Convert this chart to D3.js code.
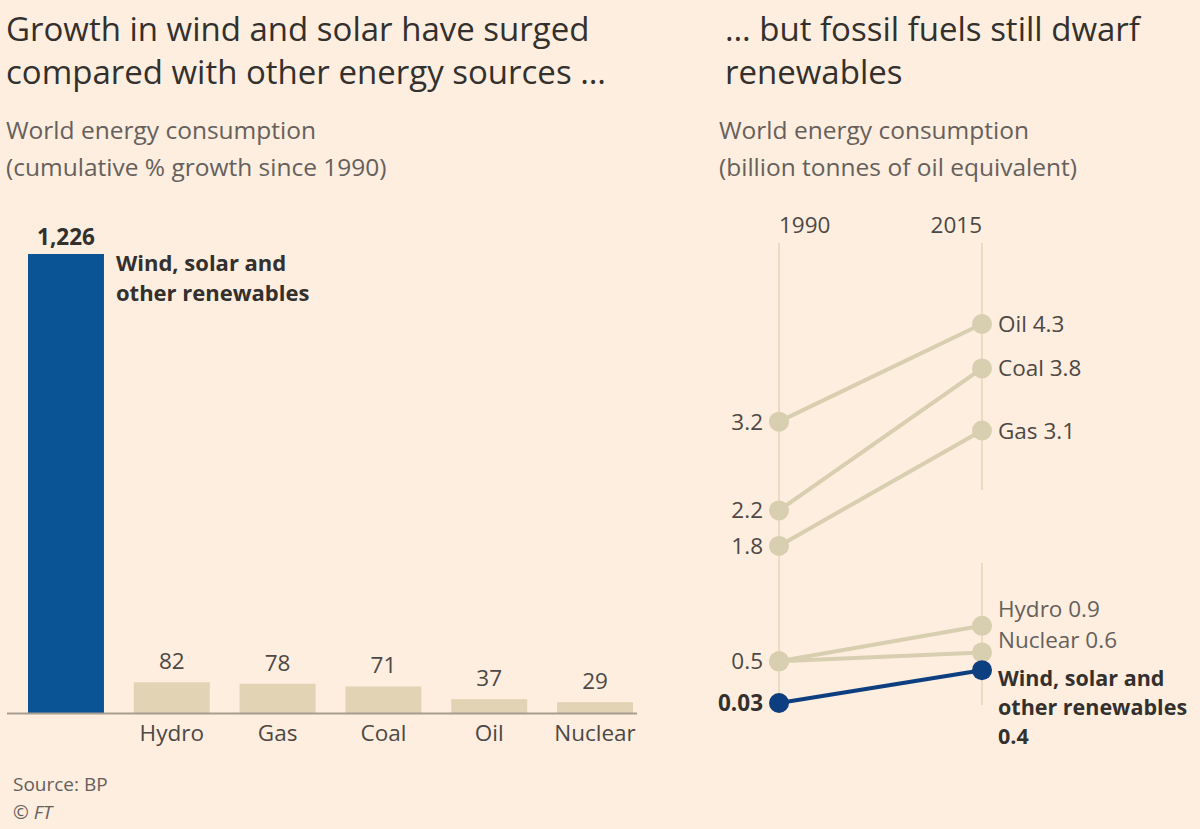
<!DOCTYPE html>
<html>
<head>
<meta charset="utf-8">
<script src="https://cdn.jsdelivr.net/npm/d3@7"></script>
<style>
  html, body { margin: 0; padding: 0; background: #fdeedf; }
  svg { display: block; font-family: "Open Sans", "Noto Sans", sans-serif; }
</style>
</head>
<body>
<svg id="chart" width="1200" height="829"></svg>
<script>
// ---- Data ----
const barCategories = ["Wind, solar and other renewables", "Hydro", "Gas", "Coal", "Oil", "Nuclear"];
const barValues = [1226, 82, 78, 71, 37, 29];

const slopeYears = ["1990", "2015"];
const slopeNames = ["Oil", "Coal", "Gas", "Hydro", "Nuclear", "Wind, solar and other renewables"];
const values1990 = [3.2, 2.2, 1.8, 0.5, 0.5, 0.03];
const values2015 = [4.3, 3.8, 3.1, 0.9, 0.6, 0.4];

const leftTitle = ["Growth in wind and solar have surged", "compared with other energy sources \u2026"];
const leftSub = ["World energy consumption", "(cumulative % growth since 1990)"];
const rightTitle = ["\u2026 but fossil fuels still dwarf", "renewables"];
const rightSub = ["World energy consumption", "(billion tonnes of oil equivalent)"];

// ---- Style ----
const C = {
  bg: "#fdeedf", dark: "#33302e", mid: "#4d4845", light: "#66605c",
  blue: "#0a5496", navy: "#0d3f80", beige: "#e2d3b4", dot: "#d8ceb0", grid: "#eadcbf", axis: "#a69d8f"
};
const FS = 22.5;

const svg = d3.select("#chart");
svg.append("rect").attr("width", 1200).attr("height", 829).attr("fill", C.bg);

function block(lines, x, y0, lh, size, color, weight) {
  const t = svg.append("g");
  lines.forEach((s, i) => {
    t.append("text").attr("x", x).attr("y", y0 + i * lh)
      .attr("font-size", size).attr("fill", color).attr("font-weight", weight || 400).text(s);
  });
  return t;
}
block(leftTitle, 6, 41, 43, 33, C.dark);
block(leftSub, 6, 139, 37, 24.5, C.light);
block(rightTitle, 725, 41, 43, 33, C.dark);
block(rightSub, 719, 139, 37, 24.5, C.light);

// ---- Bar chart ----
const x = d3.scaleBand().domain(barCategories).range([28, 633]).paddingInner(0.282).paddingOuter(0);
const y = d3.scaleLinear().domain([0, 1226]).range([713, 254]);

const bars = svg.append("g");
bars.selectAll("rect").data(barCategories).join("rect")
  .attr("x", d => x(d)).attr("width", x.bandwidth())
  .attr("y", (d, i) => y(barValues[i])).attr("height", (d, i) => y(0) - y(barValues[i]))
  .attr("fill", (d, i) => i === 0 ? C.blue : C.beige);

bars.selectAll("text.val").data(barCategories).join("text").attr("class", "val")
  .attr("x", d => x(d) + x.bandwidth() / 2)
  .attr("y", (d, i) => y(barValues[i]) - (i === 0 ? 9 : 13))
  .attr("text-anchor", "middle")
  .attr("font-size", FS)
  .attr("font-weight", (d, i) => i === 0 ? 700 : 400)
  .attr("fill", (d, i) => i === 0 ? C.dark : C.mid)
  .text((d, i) => d3.format(",")(barValues[i]));

// axis
const xAxis = svg.append("g").attr("transform", "translate(0,713)")
  .call(d3.axisBottom(x).tickSize(0).tickPadding(12));
xAxis.select(".domain").remove();
xAxis.selectAll(".tick text").attr("font-size", FS).attr("fill", C.mid)
  .attr("font-family", "Open Sans, Noto Sans, sans-serif")
  .style("display", (d, i) => i === 0 ? "none" : null);
svg.append("line").attr("x1", 7).attr("x2", 637).attr("y1", 713.5).attr("y2", 713.5)
  .attr("stroke", C.axis).attr("stroke-width", 2);

// renewables label beside bar
block(["Wind, solar and", "other renewables"], x(barCategories[0]) + x.bandwidth() + 12, 271, 30, 22, C.dark, 700);

// footer
svg.append("text").attr("x", 13).attr("y", 791).attr("font-size", 19).attr("fill", C.light).text("Source: BP");
svg.append("text").attr("x", 13).attr("y", 819).attr("font-size", 19).attr("fill", C.light)
  .attr("font-style", "italic").text("\u00a9 FT");

// ---- Slope chart ----
const sx = d3.scalePoint().domain(slopeYears).range([779, 982]);
const sy = d3.scaleLinear().domain([0, 4.3]).range([705.7, 324]);

const g = svg.append("g");
// vertical guide lines
g.append("line").attr("x1", sx("1990")).attr("x2", sx("1990")).attr("y1", 243).attr("y2", 703)
  .attr("stroke", C.grid).attr("stroke-width", 2);
g.append("line").attr("x1", sx("2015")).attr("x2", sx("2015")).attr("y1", 243).attr("y2", 490)
  .attr("stroke", C.grid).attr("stroke-width", 2);
g.append("line").attr("x1", sx("2015")).attr("x2", sx("2015")).attr("y1", 563).attr("y2", 705)
  .attr("stroke", C.grid).attr("stroke-width", 2);

// year labels
g.append("text").attr("x", sx("1990")).attr("y", 233).attr("font-size", FS).attr("fill", C.mid).text(slopeYears[0]);
g.append("text").attr("x", sx("2015")).attr("y", 233).attr("text-anchor", "end").attr("font-size", FS).attr("fill", C.mid).text(slopeYears[1]);

const isRen = i => i === slopeNames.length - 1;
const order = slopeNames.map((d, i) => i);
// lines
g.selectAll("line.s").data(order).join("line").attr("class", "s")
  .attr("x1", sx("1990")).attr("x2", sx("2015"))
  .attr("y1", i => sy(values1990[i])).attr("y2", i => sy(values2015[i]))
  .attr("stroke", i => isRen(i) ? C.navy : C.dot).attr("stroke-width", 4);
// dots
g.selectAll("circle.a").data(order).join("circle").attr("class", "a")
  .attr("cx", sx("1990")).attr("cy", i => sy(values1990[i])).attr("r", 10)
  .attr("fill", i => isRen(i) ? C.navy : C.dot);
g.selectAll("circle.b").data(order).join("circle").attr("class", "b")
  .attr("cx", sx("2015")).attr("cy", i => sy(values2015[i])).attr("r", 10)
  .attr("fill", i => isRen(i) ? C.navy : C.dot);

// left value labels (unique values)
const leftShown = [0, 1, 2, 3, 5];
g.selectAll("text.l").data(leftShown).join("text").attr("class", "l")
  .attr("x", sx("1990") - 16).attr("y", i => sy(values1990[i]) + 8)
  .attr("text-anchor", "end").attr("font-size", FS)
  .attr("font-weight", i => isRen(i) ? 700 : 400)
  .attr("fill", i => isRen(i) ? C.dark : C.mid)
  .text(i => values1990[i]);

// right labels
const rOff = [8, 8, 8, -9, -4, 0];
[0, 1, 2, 3, 4].forEach(i => {
  g.append("text").attr("x", sx("2015") + 16).attr("y", sy(values2015[i]) + rOff[i])
    .attr("font-size", FS).attr("fill", i >= 3 ? C.light : C.mid)
    .text(slopeNames[i] + " " + values2015[i]);
});
block(["Wind, solar and", "other renewables", String(values2015[5])],
  sx("2015") + 16, sy(values2015[5]) + 16, 29, 21.5, C.dark, 700);
</script>
</body>
</html>
